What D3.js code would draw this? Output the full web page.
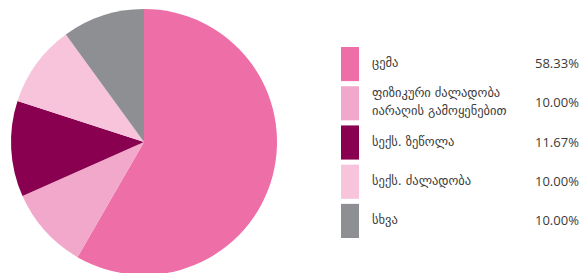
<!DOCTYPE html>
<html><head><meta charset="utf-8">
<script src="https://cdn.jsdelivr.net/npm/d3@7"></script>
<style>html,body{margin:0;padding:0;background:#fff;overflow:hidden}</style>
</head><body>
<svg id="c" width="580" height="273"></svg>
<script>
const categories = ["ცემა", "ფიზიკური ძალადობა\nიარაღის გამოყენებით", "სექს. ზეწოლა", "სექს. ძალადობა", "სხვა"];
const values = [58.33, 10.00, 11.67, 10.00, 10.00];
const labels = ["58.33%", "10.00%", "11.67%", "10.00%", "10.00%"];
const colors = ["#ee6ea8", "#f2a8ca", "#8a0050", "#f7c4dc", "#8e8f93"];

const svg = d3.select("#c");
const cx = 144, cy = 142, r = 133;
const pie = d3.pie().sort(null).value(d => d)(values);
const arc = d3.arc().innerRadius(0).outerRadius(r);
svg.append("g").attr("transform", `translate(${cx},${cy})`)
  .selectAll("path").data(pie).join("path")
  .attr("d", arc).attr("fill", (d, i) => colors[i]);

const ly = d3.scaleBand().domain(d3.range(categories.length)).range([47, 238]).paddingInner(0.13).paddingOuter(0);
const lg = svg.append("g");
categories.forEach((c, i) => {
  const y = ly(i), h = ly.bandwidth();
  lg.append("rect").attr("x", 341).attr("y", y).attr("width", 18).attr("height", h).attr("fill", colors[i]);
  const lines = c.split("\n");
  const t = lg.append("text").attr("x", 372).attr("font-family", "DejaVu Sans").attr("font-size", 12.5).attr("fill", "#3a3a3a");
  lines.forEach((ln, j) => {
    t.append("tspan").attr("x", 372)
      .attr("y", y + h / 2 + 3 + (j - (lines.length - 1) / 2) * 18).text(ln);
  });
  lg.append("text").attr("x", 535).attr("y", y + h / 2 + 4)
    .attr("font-family", "Open Sans").attr("font-size", 13).attr("fill", "#3a3a3a").text(labels[i]);
});
</script>
</body></html>
